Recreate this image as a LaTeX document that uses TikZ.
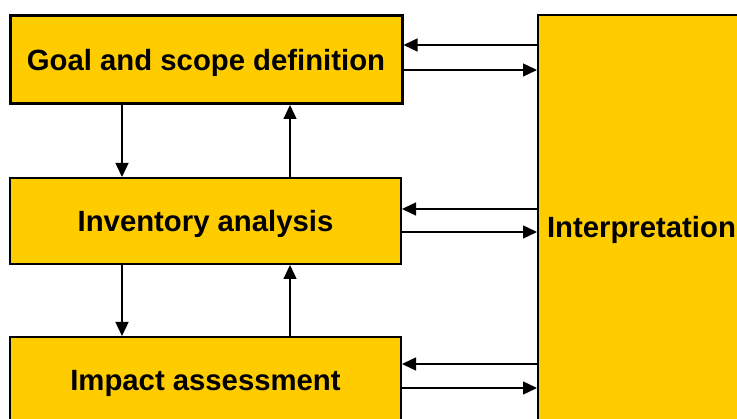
\documentclass[tikz,border=0pt]{standalone}
\usepackage{fontspec}
\setmainfont{Liberation Sans}
\usetikzlibrary{arrows.meta,calc}
\definecolor{lcay}{RGB}{255,204,0}
\begin{document}
\begin{tikzpicture}[x=1pt,y=-1pt,
  box/.style={draw=black,fill=lcay,line width=2pt,inner sep=0pt,text depth=0pt,
    font=\fontsize{29.3}{34}\selectfont\bfseries,align=center},
  arr/.style={line width=1.4pt,-{Triangle[length=14pt,width=13pt]}}]
\useasboundingbox (0,0) rectangle (737,419);
\clip (0,0) rectangle (737,419);
\node[box,line width=3pt,minimum width=392pt,minimum height=88pt] (goal) at (206,59.5) {Goal and scope definition};
\node[box,minimum width=391pt,minimum height=86pt] (inv) at (205.5,221) {Inventory analysis};
\node[box,minimum width=391pt,minimum height=86pt] (imp) at (205.5,380) {Impact assessment};
\node[box,minimum width=207pt,minimum height=424pt] (interp) at (641.5,227) {Interpretation};
% vertical arrows
\coordinate (d1) at ($(goal.south)+(-84,0)$);
\coordinate (u1) at ($(goal.south)+(84,0)$);
\draw[arr] (d1) -- (d1 |- inv.north);
\draw[arr] (u1 |- inv.north) -- (u1);
\coordinate (d2) at ($(inv.south)+(-83.5,0)$);
\coordinate (u2) at ($(inv.south)+(84.5,0)$);
\draw[arr] (d2) -- (d2 |- imp.north);
\draw[arr] (u2 |- imp.north) -- (u2);
% horizontal arrows
\coordinate (g1) at ($(goal.east)+(0,-14.5)$);
\coordinate (g2) at ($(goal.east)+(0,10.5)$);
\draw[arr] (interp.west |- g1) -- (g1);
\draw[arr] (g2) -- (interp.west |- g2);
\coordinate (i1) at ($(inv.east)+(0,-12)$);
\coordinate (i2) at ($(inv.east)+(0,11)$);
\draw[arr] (interp.west |- i1) -- (i1);
\draw[arr] (i2) -- (interp.west |- i2);
\coordinate (m1) at ($(imp.east)+(0,-16)$);
\coordinate (m2) at ($(imp.east)+(0,8)$);
\draw[arr] (interp.west |- m1) -- (m1);
\draw[arr] (m2) -- (interp.west |- m2);
\end{tikzpicture}
\end{document}
